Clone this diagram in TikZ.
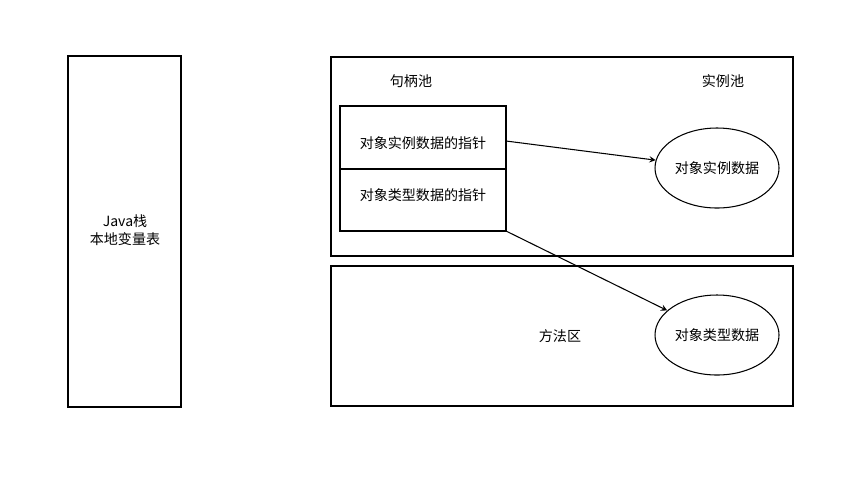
\documentclass[tikz,border=0pt]{standalone}
\usepackage{fontspec}
\setmainfont{Liberation Sans}
\newfontfamily\cjk{Noto Sans CJK SC}
\usetikzlibrary{shapes.geometric}
\tikzset{
  oval/.style={draw,ellipse,inner sep=0pt,minimum width=124*0.02cm,minimum height=80*0.02cm},
  lbl/.style={font=\cjk\fontsize{8}{10}\selectfont,align=center}
}
\begin{document}
\begin{tikzpicture}[x=0.02cm,y=-0.02cm,line width=0.6pt]
\useasboundingbox[fill=white] (0,0) rectangle (847,478);
\draw (68,56) rectangle (181,407);
\node[lbl] (stack) at (125,230) {Java栈\\本地变量表};
\draw (331,57) rectangle (793,256);
\node[lbl] (handles) at (411,81) {句柄池};
\node[lbl] (instances) at (723,81) {实例池};
\draw (340,106) rectangle (506,231);
\draw (340,169) -- (506,169);
\node[lbl] (ptra) at (423,143) {对象实例数据的指针};
\node[lbl] (ptrb) at (423,195) {对象类型数据的指针};
\coordinate (pa) at (506,141);
\coordinate (pb) at (506,231);
\draw (331,266) rectangle (793,406);
\node[lbl] (method) at (560,336) {方法区};
\node[lbl,oval] (inst) at (717,168) {对象实例数据};
\node[lbl,oval] (type) at (717,335) {对象类型数据};
\draw[-stealth] (pa) -- (inst);
\draw[-stealth] (pb) -- (type);
\end{tikzpicture}
\end{document}
